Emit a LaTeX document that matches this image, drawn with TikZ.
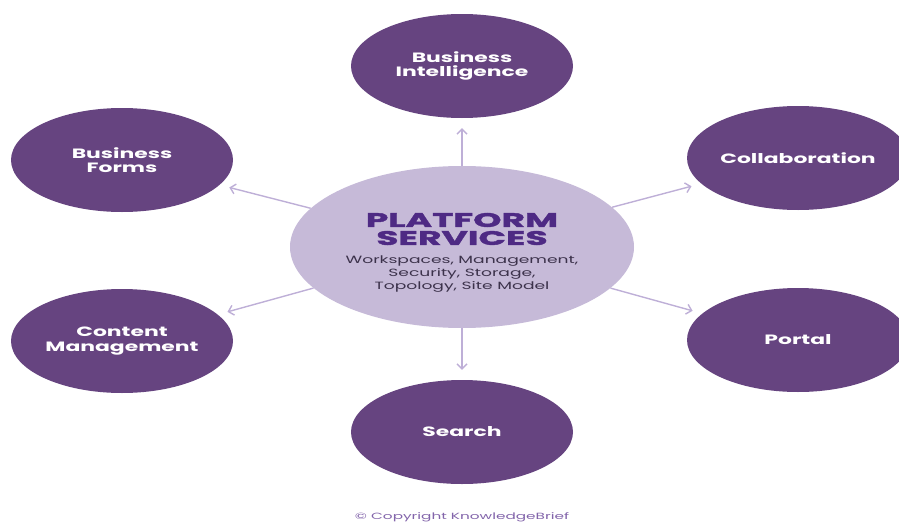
\documentclass[tikz,border=0pt]{standalone}
\usepackage{fontspec}
\setmainfont{Poppins}
\newfontfamily\labfont{Poppins}[FakeStretch=1.62]
\newfontfamily\ttlfont{Poppins}[FakeStretch=1.85, BoldFeatures={FakeBold=2}]
\newfontfamily\subfont{Poppins}[FakeStretch=1.63]
\newfontfamily\cpfont{Poppins}[FakeStretch=1.7]
\usetikzlibrary{shapes.geometric,arrows.meta}
\definecolor{dpurple}{RGB}{102,68,128}
\definecolor{lpurple}{RGB}{198,186,216}
\definecolor{ttlcol}{RGB}{78,42,132}
\definecolor{subcol}{RGB}{60,50,75}
\definecolor{arrcol}{RGB}{190,175,215}
\definecolor{copycol}{RGB}{130,100,170}
\tikzset{
  outer/.style={ellipse, fill=dpurple, minimum width=222pt, minimum height=104pt, inner sep=0pt,
    text=white, align=center, font=\labfont\bfseries\fontsize{13.5}{14.5}\selectfont},
  centre/.style={ellipse, fill=lpurple, minimum width=344pt, minimum height=162pt, inner sep=0pt},
  ttl/.style={text=ttlcol, align=center, font=\ttlfont\bfseries\fontsize{19.5}{18}\selectfont},
  sub/.style={text=subcol, align=center, font=\subfont\fontsize{10.5}{13}\selectfont},
  arr/.style={draw=arrcol, line width=1.4pt, shorten >=10pt, -{Straight Barb[length=5pt,width=10pt]}}
}
\begin{document}
\begin{tikzpicture}[x=1pt,y=-1pt]
\useasboundingbox (0,0) rectangle (899,522);
\clip (0,0) rectangle (899,522);
\node[outer] (bi) at (462,66) {Business\\Intelligence};
\node[outer] (bf) at (122,160) {Business\\Forms};
\node[outer] (co) at (798,158) {Collaboration};
\node[outer] (cm) at (122,341) {Content\\Management};
\node[outer] (po) at (798,340) {Portal};
\node[outer] (se) at (462,432) {Search};
\node[centre] (ps) at (462,247) {};
\node[ttl] (pst) at (462,229) {PLATFORM\\SERVICES};
\node[sub] (pss) at (462,274) {Workspaces, Management,\\Security, Storage,\\Topology, Site Model};
\draw[arr] (ps) -- (bi);
\draw[arr] (ps) -- (bf);
\draw[arr] (ps) -- (co);
\draw[arr] (ps) -- (cm);
\draw[arr] (ps) -- (po);
\draw[arr] (ps) -- (se);
\node[text=copycol, font=\cpfont\fontsize{9}{10}\selectfont] (cp) at (462,517) {© Copyright KnowledgeBrief};
\end{tikzpicture}
\end{document}
